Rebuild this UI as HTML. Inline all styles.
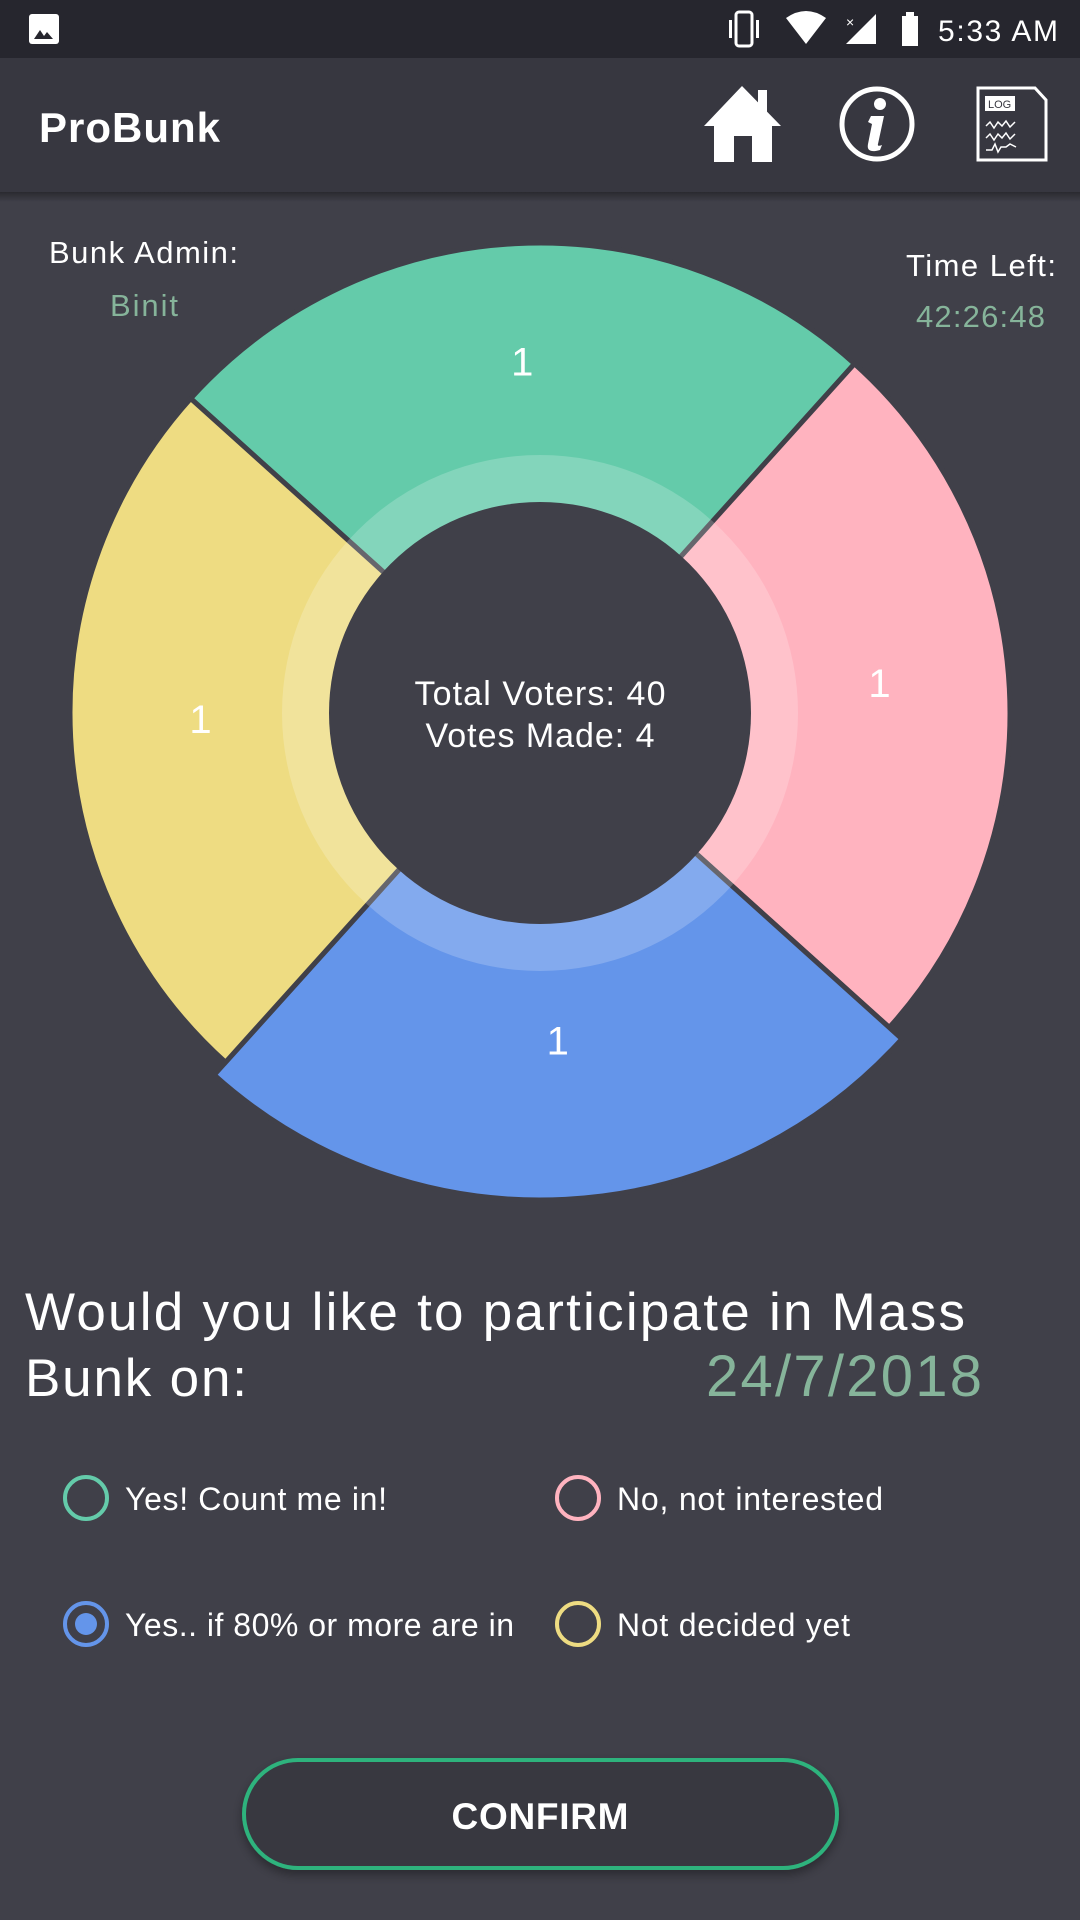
<!DOCTYPE html>
<html><head><meta charset="utf-8"><style>
html,body{margin:0;padding:0;background:#404049;}
svg{display:block;font-family:"Liberation Sans",sans-serif;}
</style></head><body>
<svg id="page" width="1080" height="1920" viewBox="0 0 1080 1920">
<defs>
<linearGradient id="sh" x1="0" y1="0" x2="0" y2="1"><stop offset="0" stop-color="#000" stop-opacity="0.35"/><stop offset="1" stop-color="#000" stop-opacity="0"/></linearGradient>
<filter id="bs" x="-10%" y="-20%" width="120%" height="150%"><feDropShadow dx="0" dy="5" stdDeviation="5" flood-color="#000" flood-opacity="0.35"/></filter>
</defs>
<rect width="1080" height="1920" fill="#404049"/>
<g>
<rect width="1080" height="58" fill="#26262e"/>
<rect x="29" y="14" width="30" height="30" rx="3" fill="#fff"/>
<path d="M34 39 l6 -9 l4 6 l3 -4 l6 7 z" fill="#26262e"/>
<rect x="736" y="12" width="16" height="34" rx="3" fill="none" stroke="#fff" stroke-width="3"/>
<rect x="729" y="20" width="3" height="18" fill="#fff"/><rect x="756" y="20" width="3" height="18" fill="#fff"/>
<path d="M786 18 Q806 4 826 18 L806 44 Z" fill="#fff"/>
<path d="M876 14 L876 44 L846 44 Z" fill="#fff"/>
<text x="846" y="27" font-size="14" fill="#fff">×</text>
<rect x="902" y="16" width="16" height="30" fill="#fff"/><rect x="906" y="12" width="8" height="5" fill="#fff"/>
<text x="1058" y="41" font-size="30" fill="#fff" text-anchor="end" textLength="120">5:33 AM</text>
</g>
<g>
<rect y="58" width="1080" height="134" fill="#373740"/>
<rect y="192" width="1080" height="10" fill="url(#sh)"/>
<text x="39" y="142" font-size="42" font-weight="bold" fill="#fff" textLength="181">ProBunk</text>
<g>
<path d="M742 86 L781 126 L772 126 L772 162 L752 162 L752 136 L734 136 L734 162 L714 162 L714 126 L704 126 Z" fill="#fff"/>
<rect x="758" y="90" width="9" height="22" fill="#fff"/>
</g>
<g>
<circle cx="877" cy="124" r="35" fill="none" stroke="#fff" stroke-width="5"/>
<circle cx="880" cy="104" r="6" fill="#fff"/>
<path d="M871 116 L884 116 L878 144 Q877 147 882 145 L880 150 Q866 154 868 144 L872 124 L868 122 Z" fill="#fff"/>
</g>
<g>
<path d="M978 88 L1035 88 L1046 100 L1046 160 L978 160 Z" fill="none" stroke="#fff" stroke-width="3"/>
<rect x="985" y="96" width="30" height="15" fill="#fff"/>
<text x="988" y="108" font-size="11" fill="#373740">LOG</text>
<path d="M986 126 l4 -4 l4 6 l4 -6 l4 4 l4 -5 l4 6 l5 -5 M986 138 l4 -4 l4 6 l4 -6 l4 4 l4 -5 l4 6 l5 -5 M986 150 l6 0 l3 -6 l3 8 l3 -5 l5 0 l4 -3 l6 3" fill="none" stroke="#fff" stroke-width="1.5"/>
</g>
</g>
<text x="49" y="263" font-size="31" fill="#fff" textLength="189">Bunk Admin:</text>
<text x="110" y="316" font-size="31" fill="#86b49a" textLength="68">Binit</text>
<text x="906" y="276" font-size="31" fill="#fff" textLength="150">Time Left:</text>
<text x="916" y="327" font-size="31" fill="#86b49a" textLength="129">42:26:48</text>
<g id="chart"></g>
<text x="540" y="705" font-size="34" fill="#fff" text-anchor="middle" textLength="251">Total Voters: 40</text>
<text x="540" y="747" font-size="34" fill="#fff" text-anchor="middle" textLength="229">Votes Made: 4</text>
<text x="25" y="1330" font-size="53" fill="#fff" textLength="940">Would you like to participate in Mass</text>
<text x="25" y="1396" font-size="53" fill="#fff" textLength="222">Bunk on:</text>
<text x="982" y="1396" font-size="58" fill="#86b49a" text-anchor="end" textLength="276">24/7/2018</text>
<g>
<circle cx="86" cy="1498" r="21" fill="none" stroke="#64cbaa" stroke-width="4"/>
<text x="125" y="1510" font-size="32" fill="#fff" textLength="262">Yes! Count me in!</text></g>
<g>
<circle cx="578" cy="1498" r="21" fill="none" stroke="#ffb3bf" stroke-width="4"/>
<text x="617" y="1510" font-size="32" fill="#fff" textLength="266">No, not interested</text></g>
<g>
<circle cx="86" cy="1624" r="21" fill="none" stroke="#6495ea" stroke-width="4"/>
<circle cx="86" cy="1624" r="11" fill="#6495ea"/>
<text x="125" y="1636" font-size="32" fill="#fff" textLength="389">Yes.. if 80% or more are in</text></g>
<g>
<circle cx="578" cy="1624" r="21" fill="none" stroke="#eedc82" stroke-width="4"/>
<text x="617" y="1636" font-size="32" fill="#fff" textLength="233">Not decided yet</text></g>
<g>
<rect x="244" y="1760" width="593" height="108" rx="54" fill="#373740" stroke="#2db37d" stroke-width="4" filter="url(#bs)"/>
<text x="540" y="1829" font-size="37" font-weight="bold" fill="#fff" text-anchor="middle" textLength="177">CONFIRM</text>
</g>
</svg>
<script>
const categories = ["Yes", "No", "Yes if 80%", "Not decided"];
const votes = [1, 1, 1, 1];
const colors = ["#64cbaa", "#ffb3bf", "#6495ea", "#eedc82"];
const selectedIndex = 2;

const NS = "http://www.w3.org/2000/svg";
const cx = 540, cy = 713, R = 470, Rsel = 487, holeR = 211, ringR = 258, labelR = 340, labelYShift = -12;
const startDeg = 222;
const chart = document.getElementById("chart");
const total = votes.reduce((a, b) => a + b, 0);
function angleScale(v) { return v / total * 360; }
function pt(r, deg) { const a = deg * Math.PI / 180; return [cx + r * Math.cos(a), cy + r * Math.sin(a)]; }
let acc = startDeg;
votes.forEach((v, i) => {
  const sweep = angleScale(v);
  const a0 = acc, a1 = acc + sweep;
  const r = i === selectedIndex ? Rsel : R;
  const p0 = pt(r, a0), p1 = pt(r, a1);
  const large = sweep > 180 ? 1 : 0;
  const d = `M${cx},${cy} L${p0[0]},${p0[1]} A${r},${r} 0 ${large} 1 ${p1[0]},${p1[1]} Z`;
  const path = document.createElementNS(NS, "path");
  path.setAttribute("d", d);
  path.setAttribute("fill", colors[i]);
  path.setAttribute("stroke", "#404049");
  path.setAttribute("stroke-width", "5");
  
  
  chart.appendChild(path);
  acc = a1;
});
const ring = document.createElementNS(NS, "circle");
ring.setAttribute("cx", cx); ring.setAttribute("cy", cy); ring.setAttribute("r", ringR);
ring.setAttribute("fill", "#fff"); ring.setAttribute("fill-opacity", "0.2");


chart.appendChild(ring);
const hole = document.createElementNS(NS, "circle");
hole.setAttribute("cx", cx); hole.setAttribute("cy", cy); hole.setAttribute("r", holeR);
hole.setAttribute("fill", "#404049");


chart.appendChild(hole);
acc = startDeg;
votes.forEach((v, i) => {
  const sweep = angleScale(v);
  const mid = acc + sweep / 2;
  const p = pt(labelR, mid);
  const t = document.createElementNS(NS, "text");
  t.setAttribute("x", p[0]); t.setAttribute("y", p[1] + 14 + labelYShift);
  t.setAttribute("font-size", "40"); t.setAttribute("fill", "#fff");
  t.setAttribute("text-anchor", "middle");
  t.textContent = String(v);
  
  
  chart.appendChild(t);
  acc += sweep;
});
</script>
</body></html>
